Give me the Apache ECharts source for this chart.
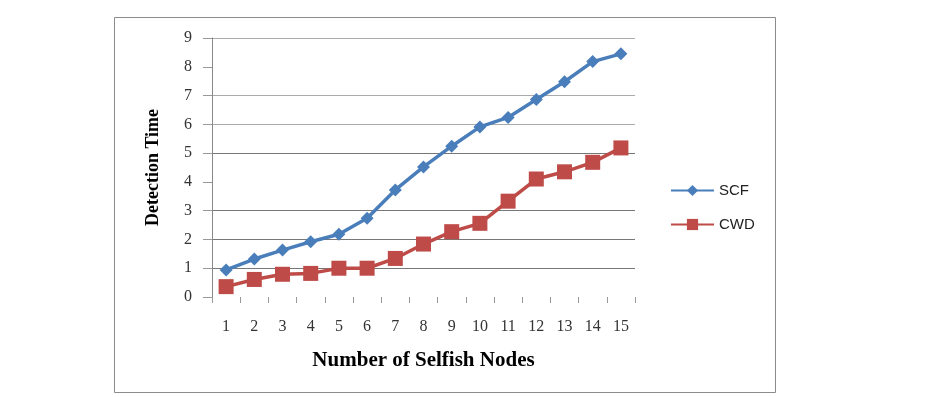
<!DOCTYPE html>
<html>
<head>
<meta charset="utf-8">
<script src="https://cdn.jsdelivr.net/npm/echarts@6/dist/echarts.min.js"></script>
<style>
html,body{margin:0;padding:0;background:#fff;}
#main{width:939px;height:398px;}
</style>
</head>
<body>
<div id="main"></div>
<script>
var nodes = ['1','2','3','4','5','6','7','8','9','10','11','12','13','14','15'];
var scf = [0.94,1.32,1.63,1.92,2.18,2.74,3.72,4.52,5.24,5.91,6.24,6.86,7.48,8.18,8.45];
var cwd = [0.36,0.61,0.79,0.82,1.0,1.0,1.34,1.84,2.27,2.56,3.33,4.10,4.35,4.68,5.18];

var myChart = echarts.init(document.getElementById('main'));
var serif = '"Liberation Serif","DejaVu Serif",serif';
var option = {
    animation: false,
    backgroundColor: '#fff',
    graphic: [
        {
            type: 'rect',
            shape: {x: 114.5, y: 17.5, width: 661, height: 375},
            style: {fill: 'none', stroke: '#8c8c8c', lineWidth: 1}
        }
    ],
    grid: {left: 212, right: 304, top: 38, bottom: 101},
    legend: {
        orient: 'vertical',
        left: 665,
        top: 178,
        itemWidth: 43,
        itemHeight: 14,
        itemGap: 19,
        textStyle: {fontFamily: '"Liberation Sans",Arial,sans-serif', fontSize: 15, color: '#222'},
        data: ['SCF', 'CWD']
    },
    xAxis: {
        type: 'category',
        data: nodes,
        boundaryGap: true,
        name: 'Number of Selfish Nodes',
        nameLocation: 'middle',
        nameGap: 53,
        nameTextStyle: {fontFamily: serif, fontSize: 21, fontWeight: 'bold', color: '#000'},
        axisLine: {show: false},
        axisTick: {show: true, length: 6, lineStyle: {color: '#999'}},
        axisLabel: {margin: 22, fontFamily: serif, fontSize: 16, color: '#333'}
    },
    yAxis: {
        type: 'value',
        min: 0,
        max: 9,
        interval: 1,
        name: 'Detection Time',
        nameLocation: 'middle',
        nameGap: 50,
        nameTextStyle: {fontFamily: serif, fontSize: 18, fontWeight: 'bold', color: '#000'},
        axisLine: {show: true, lineStyle: {color: '#888'}},
        axisTick: {show: true, length: 9, lineStyle: {color: '#999'}},
        axisLabel: {margin: 20, fontFamily: serif, fontSize: 16, color: '#333'},
        splitLine: {
            show: true,
            lineStyle: {
                color: ['rgba(0,0,0,0)','#777','#777','#777','rgba(0,0,0,0)','#777','#aaa','#aaa','rgba(0,0,0,0)','#aaa'],
                width: 1
            }
        }
    },
    series: [
        {
            name: 'SCF',
            type: 'line',
            data: scf,
            symbol: 'diamond',
            symbolSize: 13,
            lineStyle: {color: '#4a7ebb', width: 3.5},
            itemStyle: {color: '#4a7ebb'}
        },
        {
            name: 'CWD',
            type: 'line',
            data: cwd,
            symbol: 'rect',
            symbolSize: 15,
            lineStyle: {color: '#be4b48', width: 3.5},
            itemStyle: {color: '#be4b48'}
        }
    ]
};
myChart.setOption(option);
</script>
</body>
</html>
